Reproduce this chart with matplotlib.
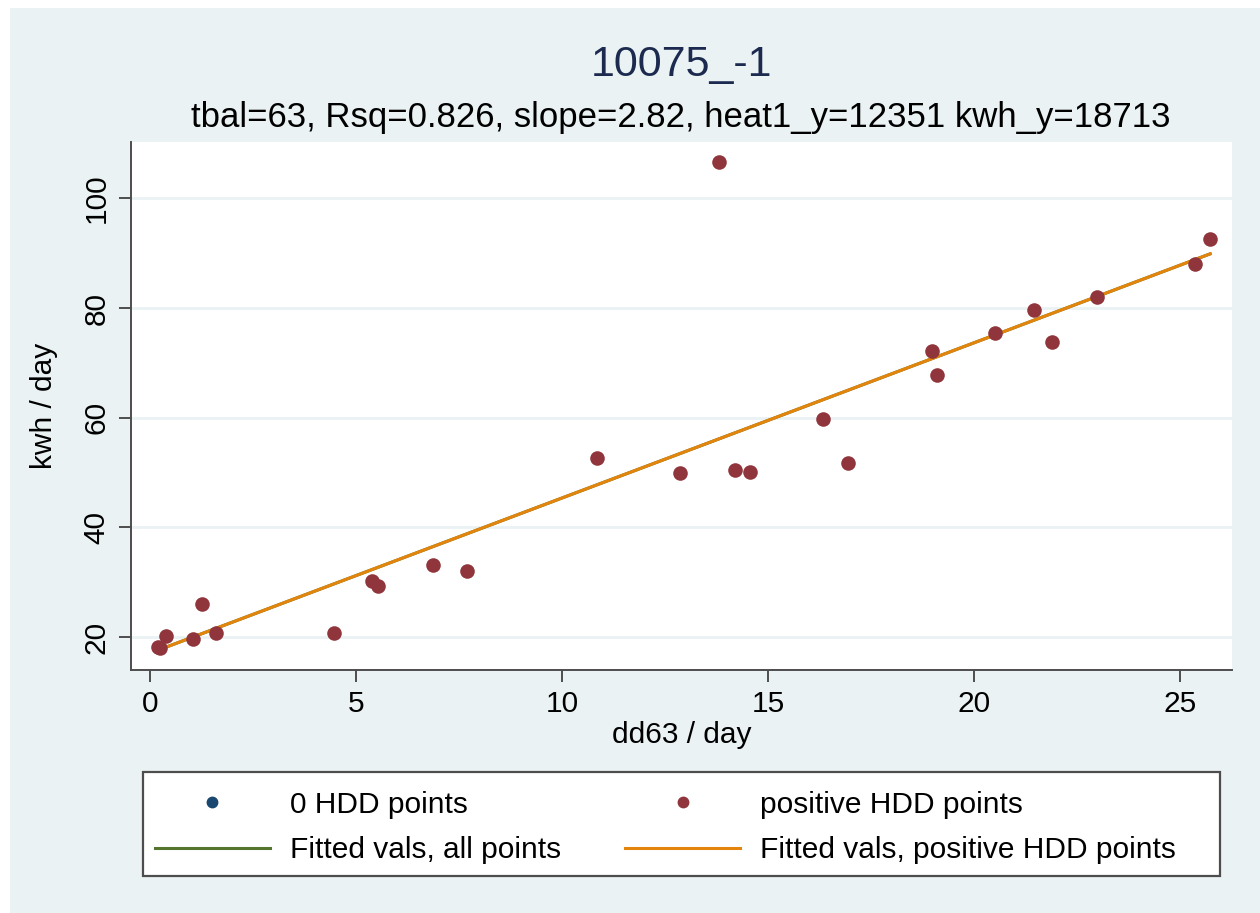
import matplotlib
matplotlib.use("Agg")
import matplotlib.pyplot as plt
from matplotlib.lines import Line2D
from matplotlib.patches import Rectangle

# ---- data ----
hdd_x = [0.18, 0.23, 0.38, 1.03, 1.25, 1.59, 4.45, 5.37, 5.52, 6.86, 7.68,
         10.84, 12.85, 13.80, 14.18, 14.55, 16.32, 16.93, 18.97, 19.09,
         20.50, 21.44, 21.88, 22.97, 25.35, 25.72]
kwh_y = [18.2, 18.1, 20.2, 19.6, 26.0, 20.7, 20.7, 30.2, 29.3, 33.1, 32.0,
         52.6, 49.9, 106.6, 50.4, 50.1, 59.7, 51.7, 72.1, 67.8,
         75.4, 79.6, 73.8, 82.0, 88.0, 92.6]
zero_x = []
zero_y = []
fit_all_x = [0.18, 25.72]
fit_all_y = [17.6, 89.9]
fit_pos_x = [0.18, 25.72]
fit_pos_y = [17.6, 89.9]
xticks = [0, 5, 10, 15, 20, 25]
yticks = [20, 40, 60, 80, 100]

title = "10075_-1"
subtitle = "tbal=63, Rsq=0.826, slope=2.82, heat1_y=12351 kwh_y=18713"

# ---- style ----
plt.rcParams['font.family'] = ['Liberation Sans', 'DejaVu Sans']
BG = "#eaf2f3"
MAROON = "#90353b"
ORANGE = "#e3850c"
GREEN = "#55752f"
NAVY = "#1a476f"
SPINE = "#4d4d4d"

W, H = 1260, 913
fig = plt.figure(figsize=(W / 100, H / 100), dpi=100, facecolor="white")
fig.patches.append(Rectangle((10 / W, 0), 1 - 10 / W, 1 - 8 / H,
                             transform=fig.transFigure, facecolor=BG,
                             edgecolor="none", zorder=-10))

ax = fig.add_axes([131 / W, 1 - 670 / H, (1232 - 131) / W, (670 - 142) / H])
ax.set_facecolor("white")

ax.scatter(zero_x, zero_y, s=110, color=NAVY, zorder=3)
ax.scatter(hdd_x, kwh_y, s=110, color=MAROON, zorder=3, linewidths=0)
ax.plot(fit_all_x, fit_all_y, color=GREEN, lw=2.2, zorder=2)
ax.plot(fit_pos_x, fit_pos_y, color=ORANGE, lw=2.2, zorder=2.5)

ax.set_xlim(-0.47, 26.25)
ax.set_ylim(14.0, 110.3)
ax.set_xticks(xticks)
ax.set_yticks(yticks)
ax.set_xticklabels([str(v) for v in xticks])
ax.set_yticklabels([str(v) for v in yticks], rotation=90, va="center")

ax.grid(axis="y", color=BG, lw=2.0)
ax.set_axisbelow(True)
for s in ["top", "right"]:
    ax.spines[s].set_visible(False)
for s in ["left", "bottom"]:
    ax.spines[s].set_color(SPINE)
    ax.spines[s].set_linewidth(1.4)
ax.tick_params(axis="both", direction="out", length=8.5, width=1.4,
               color=SPINE, labelsize=21.5, labelcolor="black")
ax.tick_params(axis="x", pad=6)
ax.tick_params(axis="y", pad=6)

ax.set_xlabel("dd63 / day", fontsize=21.5, labelpad=2)
ax.set_ylabel("kwh / day", fontsize=21.5)
ax.yaxis.set_label_coords((58 - 131) / (1232 - 131), 0.5)

fig.text(681 / W, 1 - 65 / H, title, ha="center", va="center",
         fontsize=31, color="#1c2a4f")
fig.text(681 / W, 1 - 118 / H, subtitle, ha="center", va="center",
         fontsize=25, color="black")

# legend frame
fig.patches.append(Rectangle((143 / W, 1 - 876 / H), (1220 - 143) / W, (876 - 772) / H,
                             transform=fig.transFigure, facecolor="white",
                             edgecolor=SPINE, linewidth=1.6, zorder=1))

handles = [
    Line2D([], [], ls="none", marker="o", markersize=7.5, color=NAVY),
    Line2D([], [], color=GREEN, lw=2.2),
    Line2D([], [], ls="none", marker="o", markersize=7.5, color=MAROON),
    Line2D([], [], color=ORANGE, lw=2.2),
]
labels = ["0 HDD points", "Fitted vals, all points",
          "positive HDD points", "Fitted vals, positive HDD points"]
leg = fig.legend(handles, labels, ncol=2,
                 bbox_to_anchor=(155 / W, 1 - 827.5 / H),
                 loc="center left", fontsize=21.5, frameon=False,
                 handlelength=3.85, handletextpad=0.67, columnspacing=2.15,
                 labelspacing=0.6, borderpad=0, borderaxespad=0)
leg.set_zorder(2)

fig.savefig("out.png", dpi=100, facecolor="white")
